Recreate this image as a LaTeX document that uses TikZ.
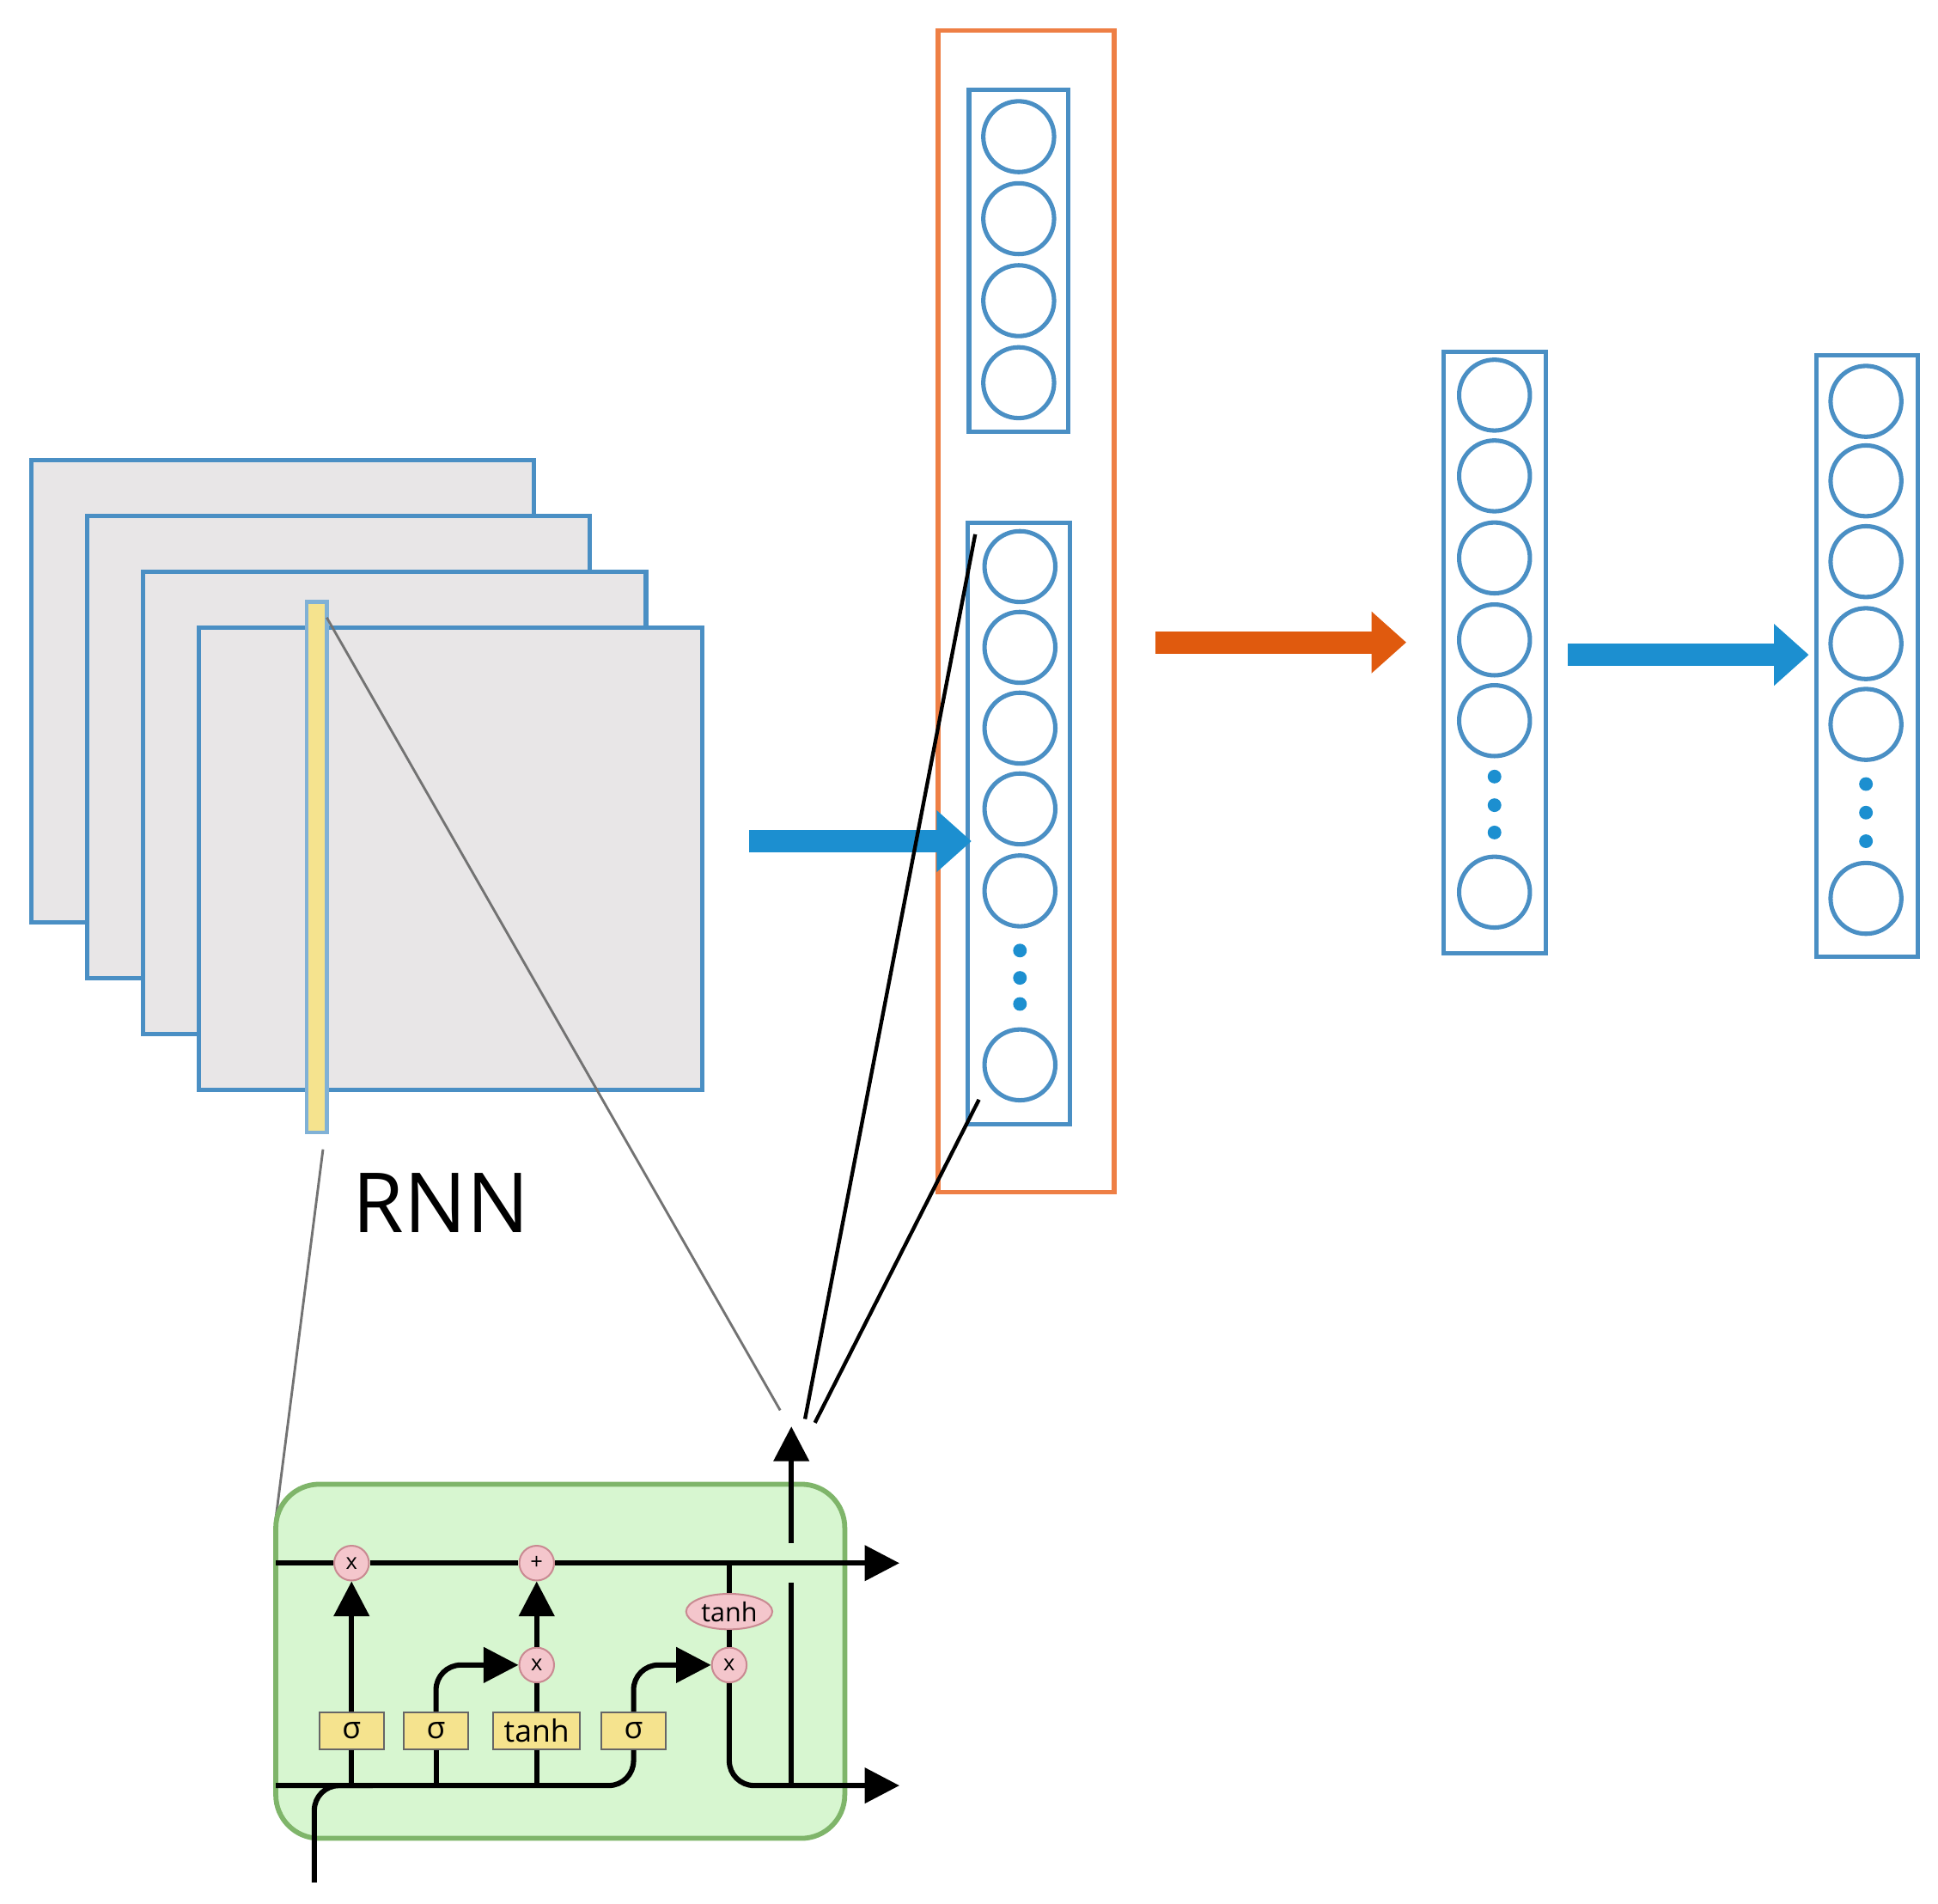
\documentclass[tikz,border=0pt]{standalone}
\usepackage{fontspec}
\setmainfont{Open Sans}
\usetikzlibrary{arrows.meta,shapes.geometric}
\definecolor{bl}{HTML}{4A8FC4}
\definecolor{barrow}{HTML}{1C8FD0}
\definecolor{oarrow}{HTML}{E05A0E}
\definecolor{obox}{HTML}{EE7F45}
\definecolor{plane}{HTML}{E8E6E7}
\definecolor{gfill}{HTML}{D7F6D0}
\definecolor{gdraw}{HTML}{7FB56A}
\definecolor{pk}{HTML}{F4C6CC}
\definecolor{pkd}{HTML}{C98A92}
\definecolor{yf}{HTML}{F5E38E}
\begin{document}
\begin{tikzpicture}[x=0.1mm,y=-0.1mm,
 plane/.style={draw=bl,fill=plane,line width=0.35mm},
 col/.style={draw=bl,line width=0.35mm},
 neu/.style={circle,draw=bl,line width=0.35mm,minimum size=5.7mm,inner sep=0},
 dot/.style={circle,fill=barrow,minimum size=1.1mm,inner sep=0},
 bigarrow/.style={line width=1.8mm,-{Triangle[length=2.8mm,width=4.8mm]}},
 lw/.style={line width=0.42mm,rounded corners=2mm},
 la/.style={lw,-{Triangle[length=2.8mm,width=2.8mm]}},
 op/.style={circle,draw=pkd,fill=pk,minimum size=2.8mm,inner sep=0,font=\fontsize{5}{5}\selectfont},
 gate/.style={draw=black!60,fill=yf,minimum height=3mm,inner sep=0,font=\fontsize{7}{7}\selectfont},
 thin/.style={black!55,line width=0.2mm}]
\useasboundingbox (0,0) rectangle (1560,1532);
% planes
\draw[plane] (25,370) rectangle (430,742);
\draw[plane] (70,415) rectangle (475,787);
\draw[plane] (115,460) rectangle (520,832);
\draw[plane] (160,505) rectangle (565,877);
\node[draw=bl!70,fill=yf,line width=0.3mm,minimum width=1.6mm,minimum height=42.7mm,inner sep=0] (strip) at (255,698) {};
\node[font=\fontsize{19}{19}\selectfont] (rnn) at (355,968) {RNN};
% orange box and columns
\node[draw=obox,line width=0.4mm,minimum width=14.2mm,minimum height=93.5mm,inner sep=0] (obox) at (826,492) {};
\node[col,minimum width=8mm,minimum height=27.5mm,inner sep=0] (c1) at (820,210) {};
\foreach \y [count=\i] in {110,176,242,308} \node[neu] (a\i) at (820,\y) {};
\node[col,minimum width=8.2mm,minimum height=48.4mm,inner sep=0] (c2) at (820,663) {};
\foreach \y [count=\i] in {456,521,586,651,717,857} \node[neu] (b\i) at (821,\y) {};
\foreach \y in {765,787,808} \node[dot] at (821,\y) {};
\node[col,minimum width=8.2mm,minimum height=48.4mm,inner sep=0] (c3) at (1203,525) {};
\foreach \y [count=\i] in {318,383,449,515,580,718} \node[neu] (d\i) at (1203,\y) {};
\foreach \y in {625,648,670} \node[dot] at (1203,\y) {};
\node[col,minimum width=8.2mm,minimum height=48.4mm,inner sep=0] (c4) at (1503,528) {};
\foreach \y [count=\i] in {323,387,452,518,583,723} \node[neu] (e\i) at (1502,\y) {};
\foreach \y in {631,654,677} \node[dot] at (1502,\y) {};
% big arrows
\coordinate (p1) at (603,677); \coordinate (p2) at (782,677);
\draw[bigarrow,barrow] (p1) -- (p2);
\coordinate (q1) at (930,517); \coordinate (q2) at (1132,517);
\draw[bigarrow,oarrow] (q1) -- (q2);
\coordinate (r1) at (1262,527); \coordinate (r2) at (1456,527);
\draw[bigarrow,barrow] (r1) -- (r2);
% zoom lines
\coordinate (z1) at (260,925); \coordinate (z2) at (222,1222);
\coordinate (z3) at (263,497); \coordinate (z4) at (628,1135);
\coordinate (z5) at (785,430); \coordinate (z6) at (648,1142);
\coordinate (z7) at (788,885); \coordinate (z8) at (656,1145);
\draw[thin] (z1) -- (z2);
\draw[thin] (z3) -- (z4);
\draw[line width=0.3mm] (z5) -- (z6);
\draw[line width=0.3mm] (z7) -- (z8);
% LSTM cell
\node[draw=gdraw,fill=gfill,line width=0.4mm,rounded corners=3.5mm,minimum width=45.8mm,minimum height=28.5mm,inner sep=0] (cell) at (451,1337) {};
\coordinate (ctl) at (222,1258); \coordinate (ctr) at (724,1258);
\coordinate (cbl) at (222,1437); \coordinate (cbr) at (724,1437);
\node[op] (m1) at (283,1258) {x};
\node[op] (pl) at (432,1258) {+};
\node[op] (m2) at (432,1340) {x};
\node[op] (m3) at (587,1340) {x};
\node[ellipse,draw=pkd,fill=pk,inner sep=0.2mm,font=\fontsize{6}{6}\selectfont] (th) at (587,1297) {tanh};
\node[gate,minimum width=5.2mm] (g1) at (283,1393) {σ};
\node[gate,minimum width=5.2mm] (g2) at (351,1393) {σ};
\node[gate,minimum width=7mm] (g3) at (432,1393) {tanh};
\node[gate,minimum width=5.2mm] (g4) at (510,1393) {σ};
\draw[la] (ctl) -- (m1) -- (pl) -- (ctr);
% bottom input line
\coordinate (in) at (253,1515);
\draw[lw] (in) |- (cbl -| 300,0) ;
\draw[lw] (cbl) -- (283,1437) -- (510,1437) -- (g4.south);
\draw[lw] (283,1437) -- (g1);
\draw[lw] (351,1437) -- (g2);
\draw[lw] (432,1437) -- (g3);
\draw[la] (g1) -- (m1);
\draw[la] (g2) |- (m2);
\draw[lw] (g3) -- (m2);
\draw[la] (m2) -- (pl);
\draw[la] (g4) |- (m3);
\draw[lw] (587,1258) -- (th) -- (m3);
\draw[la] (m3) |- (cbr);
\coordinate (hv) at (637,1437); \coordinate (hup) at (637,1148);
\draw[lw] (hv) -- (637,1274);
\draw[la] (637,1242) -- (hup);
\end{tikzpicture}
\end{document}
